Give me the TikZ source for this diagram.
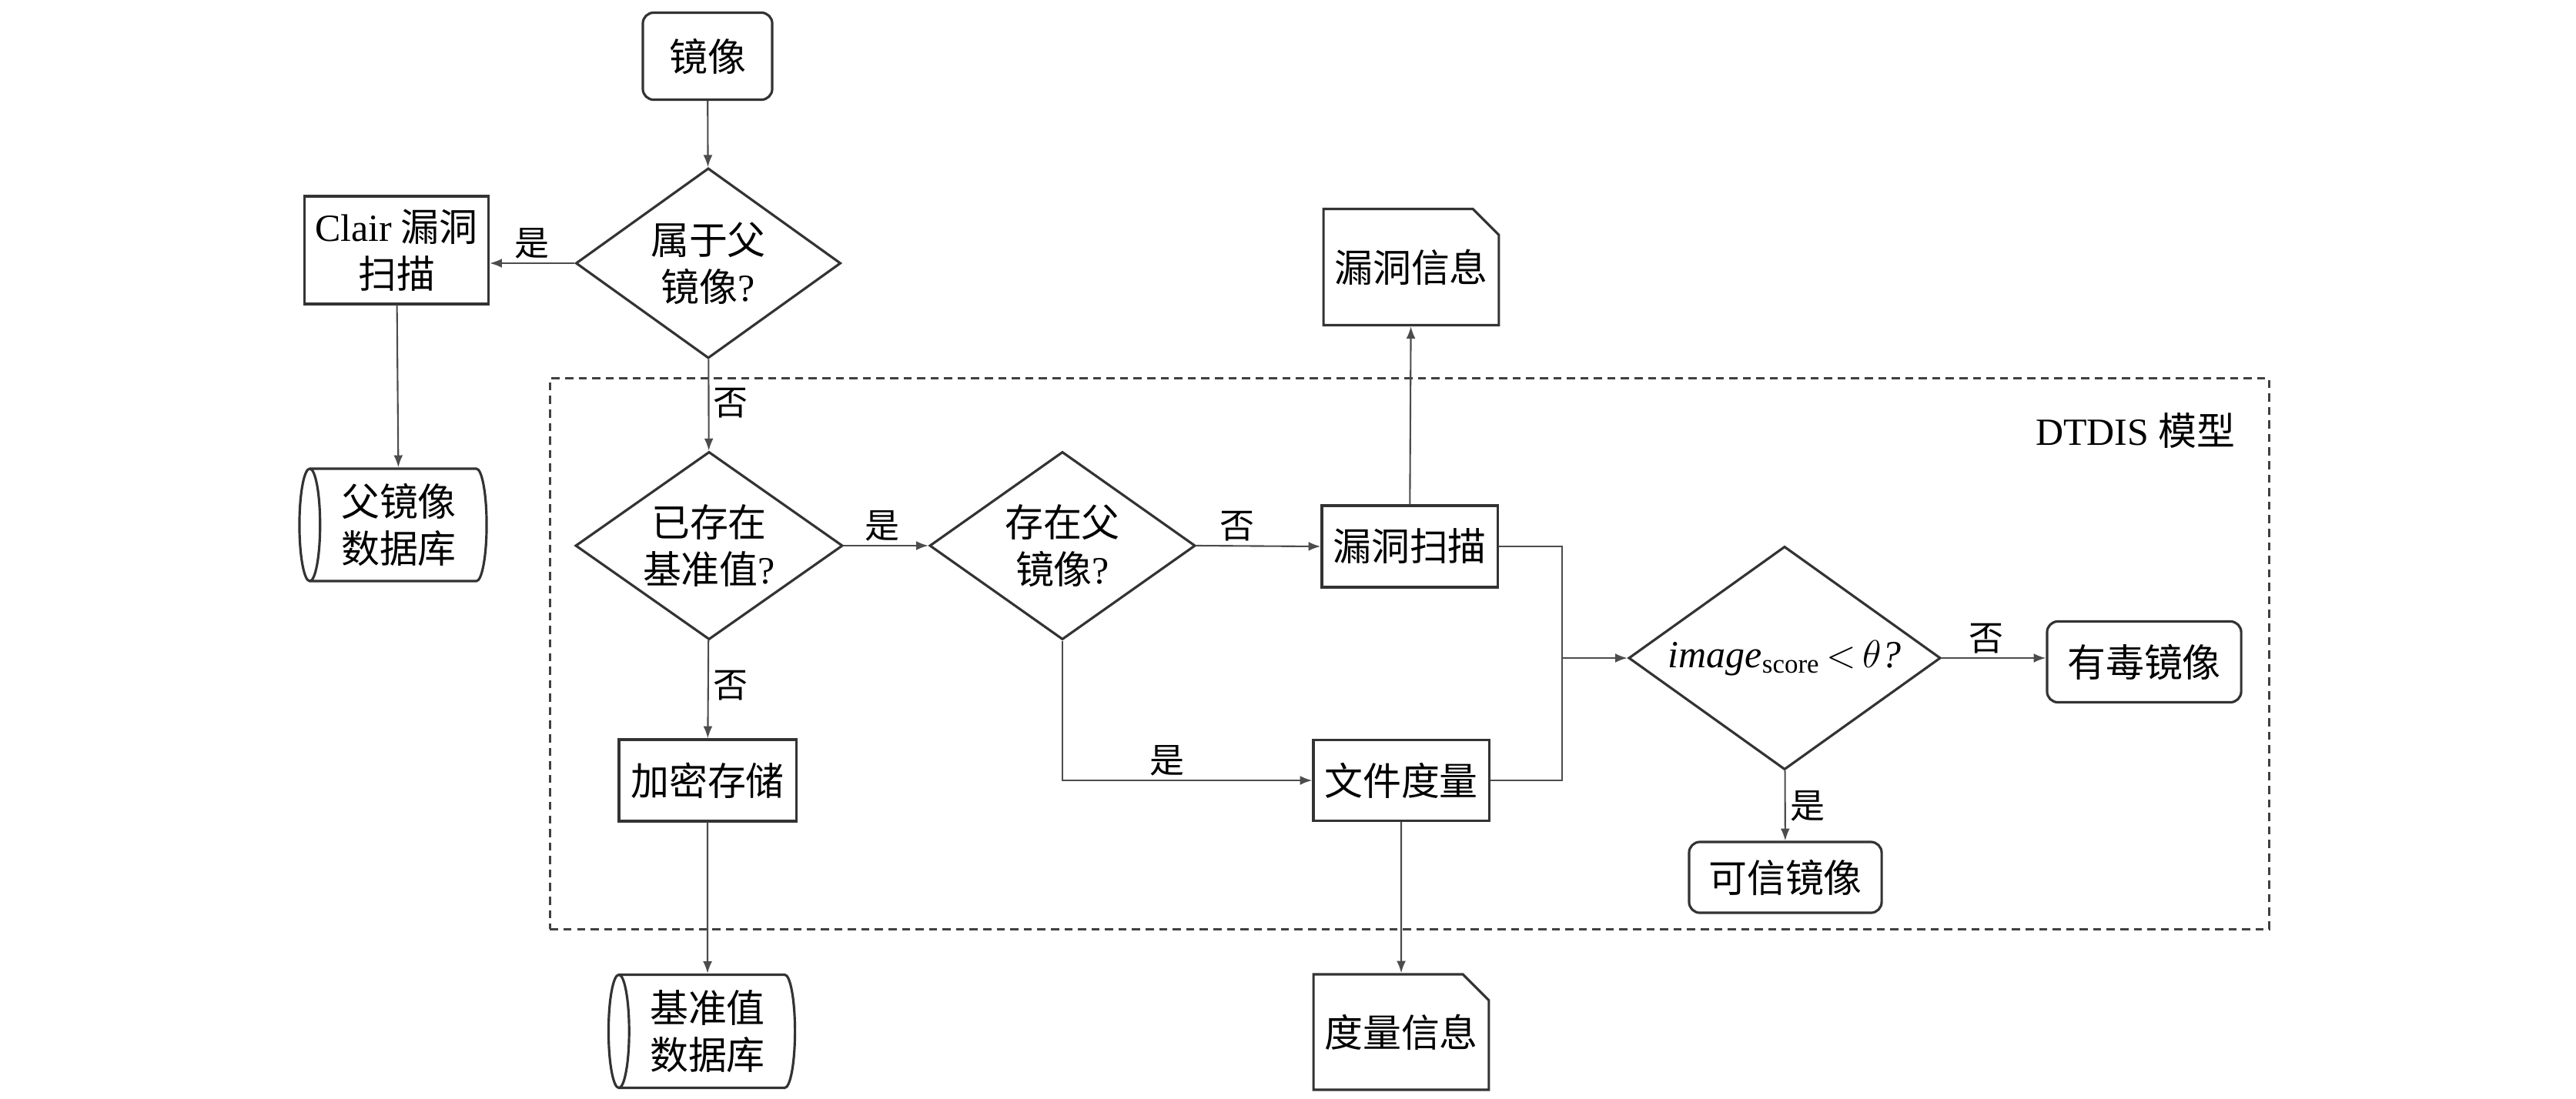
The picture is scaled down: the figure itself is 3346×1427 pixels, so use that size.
\documentclass[tikz,border=0pt]{standalone}
\usepackage{fontspec}
\setmainfont{Liberation Serif}
\newfontfamily\cjkfont{Noto Sans CJK SC}
\usetikzlibrary{positioning,calc,shapes.geometric,shapes.misc,arrows.meta}
\newcommand{\hoi}{{\rmfamily ?}}

\begin{document}
\begin{tikzpicture}[
					x=0.01cm, y=-0.01cm, % 1 don vi = 1 pixel cua anh goc
					box/.style={
						draw=black!80,        % Vien xam dam
						line width=0.9pt,
						font=\cjkfont\fontsize{14.2}{17.3}\selectfont,
						align=center,
						inner sep=0pt,
						anchor=center
					},
					proc/.style={box, rectangle},                      % Khoi xu ly
					term/.style={box, rectangle, rounded corners=4pt}, % Khoi dau / ket qua
					cond/.style={box, diamond, aspect=1.4},            % Khoi dieu kien
					db/.style={                % Co so du lieu (tru nam ngang)
						box, cylinder,
						shape border rotate=180,
						shape aspect=0.25
					},
					doc/.style={               % Tai lieu (cat goc tren phai)
						box, chamfered rectangle,
						chamfered rectangle corners=north east,
						chamfered rectangle xsep=0.23cm,
						inner xsep=-0.09cm
					},
					% --- Mui ten noi cac khoi ---
					line/.style={
						->, >={Latex[length=4.5pt, width=3.4pt]},
						draw=black!70, line width=0.6pt
					},
					lbl/.style={               % Nhan "是"/"否"
						font=\cjkfont\fontsize{12.8}{14}\selectfont,
						inner sep=1.5pt
					}
					]
					\useasboundingbox (0,0) rectangle (3346,1427);
					
					% --- KHUNG MO HINH (net dut) ---
					\node[draw=black!75, line width=0.8pt, dash pattern=on 3pt off 2pt,
					minimum width=22.32cm, minimum height=7.15cm] (model) at (1831,849.5) {};
					\node[anchor=east, font=\fontsize{14.2}{17.3}\selectfont] (modelname) at (2916,560) {DTDIS {\cjkfont 模型}};
					
					% --- CAC KHOI ---
					\node[term, minimum width=1.68cm, minimum height=1.13cm] (mirror) at (919,73) {镜像};
					\node[cond, minimum width=3.44cm, minimum height=2.47cm] (d1) at (920,342) {属于父\\镜像\hoi};
					\node[proc, minimum width=2.39cm, minimum height=1.40cm] (clair) at (515,325) {{\rmfamily Clair} 漏洞\\扫描};
					\node[db, minimum width=1.46cm, minimum height=2.43cm] (pdb) at (518,682) {父镜像\\数据库};
					\node[cond, minimum width=3.47cm, minimum height=2.44cm] (d2) at (921,709) {已存在\\基准值\hoi};
					\node[cond, minimum width=3.45cm, minimum height=2.44cm] (d3) at (1380,709) {存在父\\镜像\hoi};
					\node[proc, minimum width=2.30cm, minimum height=1.06cm] (enc) at (919,1014) {加密存储};
					\node[db, minimum width=1.47cm, minimum height=2.42cm] (bdb) at (919,1340) {基准值\\数据库};
					\node[proc, minimum width=2.28cm, minimum height=1.06cm] (scan) at (1831,710) {漏洞扫描};
					\node[doc, minimum width=2.14cm, minimum height=1.51cm] (vinfo) at (1833,347) {漏洞信息};
					\node[proc, minimum width=2.28cm, minimum height=1.05cm] (meas) at (1820,1014) {文件度量};
					\node[doc, minimum width=2.14cm, minimum height=1.50cm] (minfo) at (1820,1341) {度量信息};
					\node[cond, minimum width=4.05cm, minimum height=2.90cm] (d4) at (2318,855)
					{{\rmfamily\textit{image}\textsubscript{score}\,$<$\,$\theta$\textit{?}}};
					\node[term, minimum width=2.52cm, minimum height=1.05cm] (toxic) at (2785,860) {有毒镜像};
					\node[term, minimum width=2.50cm, minimum height=0.92cm] (trust) at (2319,1140) {可信镜像};
					\coordinate (join) at (2029,855);
					
					% --- MUI TEN ---
					\draw[line] (mirror) -- (d1);
					\draw[line] (d1.west) -- node[lbl, above] {是} (d1.west -| clair.east);
					\draw[line] (clair) -- (pdb);
					\draw[line] (d1) -- node[lbl, right, pos=0.48] {否} (d2);
					\draw[line] (d2.east) -- node[lbl, above, pos=0.45] {是} (d3.west);
					\draw[line] (d2) -- node[lbl, right, pos=0.46] {否} (enc);
					\draw[line] (enc) -- (bdb);
					\draw[line] (d3.east) -- node[lbl, above, pos=0.33] {否} (scan.west);
					\draw[line] (d3.south) |- node[lbl, above, pos=0.71] {是} (meas.west);
					\draw[line] (scan) -- (vinfo);
					\draw[line] (meas) -- (minfo);
					% Hai nhanh gop lai truoc khoi dieu kien cuoi
					\draw[line, -] (scan.east) -| (join);
					\draw[line, -] (meas.east) -| (join);
					\draw[line] (join) -- (d4.west);
					\draw[line] (d4.east) -- node[lbl, above, pos=0.43] {否} (d4.east -| toxic.west);
					\draw[line] (d4) -- node[lbl, right, pos=0.5] {是} (trust);
					
				\end{tikzpicture}
\end{document}
